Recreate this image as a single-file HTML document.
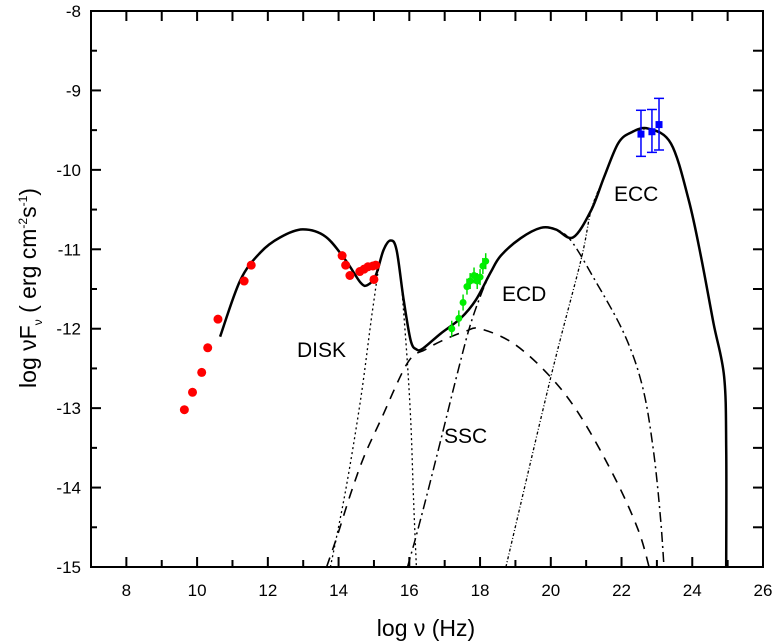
<!DOCTYPE html>
<html><head><meta charset="utf-8"><style>
body{margin:0;background:#fff;}
svg{display:block;font-family:"Liberation Sans",Arial,sans-serif;}
</style></head><body>
<svg id="chart" width="774" height="644" viewBox="0 0 774 644" xmlns="http://www.w3.org/2000/svg"></svg>
<script>
const xTicks=[8,10,12,14,16,18,20,22,24,26];
const yTicks=[-8,-9,-10,-11,-12,-13,-14,-15];
const redX=[9.64,9.87,10.13,10.3,10.59,11.33,11.53,14.1,14.2,14.32,14.6,14.72,14.83,14.97,15.0,15.05];
const redY=[-13.02,-12.8,-12.55,-12.24,-11.88,-11.4,-11.2,-11.08,-11.2,-11.33,-11.28,-11.25,-11.22,-11.21,-11.38,-11.2];
const greenX=[17.2,17.4,17.52,17.63,17.72,17.83,17.92,18.0,18.08,18.16];
const greenY=[-12.0,-11.87,-11.67,-11.47,-11.4,-11.33,-11.4,-11.35,-11.21,-11.15];
const blueX=[22.55,22.86,23.06];
const blueY=[-9.55,-9.52,-9.43];
const blueLo=[-9.83,-9.78,-9.75];
const blueHi=[-9.25,-9.24,-9.1];
const totalX=[10.65,11.22,11.79,12.35,12.98,13.63,14.2,14.62,14.82,15.05,15.27,15.47,15.64,15.84,16.04,16.2,16.38,16.89,17.45,17.88,18.3,18.59,19.15,19.72,20.14,20.63,21.14,21.5,21.9,22.27,22.75,23.4,23.9,24.25,24.6,24.9,24.96,24.96];
const totalY=[-12.1,-11.39,-11.04,-10.85,-10.75,-10.84,-11.14,-11.42,-11.45,-11.33,-11.01,-10.89,-11.01,-11.64,-12.15,-12.26,-12.25,-12.06,-11.87,-11.64,-11.29,-11.08,-10.86,-10.73,-10.75,-10.85,-10.51,-10.1,-9.67,-9.53,-9.48,-9.67,-10.38,-11.1,-11.93,-12.6,-13.5,-15];
const diskX=[13.77,14.2,14.62,14.96,15.2,15.47,15.7,15.9,16.04,16.12,16.2];
const diskY=[-15,-14.03,-12.9,-11.77,-11.1,-10.89,-11.14,-12.15,-13.15,-14.16,-15];
const sscX=[13.66,13.97,14.34,14.71,15.19,15.95,16.46,17.03,17.6,18.0,18.96,20,20.85,21.8,22.47,22.78];
const sscY=[-15,-14.6,-14.08,-13.62,-13.15,-12.43,-12.26,-12.13,-12.03,-12.0,-12.19,-12.61,-13.11,-13.87,-14.53,-15];
const ecdX=[15.95,16.32,16.89,17.31,17.68,18.0,18.3,18.59,19.15,19.72,20.14,20.57,21.2,22.07,22.6,22.9,23.1,23.2];
const ecdY=[-15,-14.4,-13.4,-12.65,-12.02,-11.6,-11.29,-11.08,-10.86,-10.73,-10.75,-10.89,-11.35,-12.06,-12.74,-13.53,-14.37,-15];
const eccX=[18.73,20.0,20.85,21.14,21.5,21.9,22.27,22.75];
const eccY=[-15,-12.61,-11.14,-10.51,-10.1,-9.67,-9.53,-9.48];
const NS="http://www.w3.org/2000/svg";
const svg=document.getElementById('chart');
const L=91,R=763,T=11,B=567;
const X=v=>L+(v-7)*(R-L)/19;
const Y=f=>T+(-8-f)*(B-T)/7;
function mk(tag,attrs,parent){const e=document.createElementNS(NS,tag);for(const k in attrs)e.setAttribute(k,attrs[k]);(parent||svg).appendChild(e);return e;}
const clip=mk('clipPath',{id:'cp'});mk('rect',{x:L,y:T,width:R-L,height:B-T},clip);
let e=mk('rect',{x:L,y:T,width:R-L,height:B-T,fill:'none',stroke:'#000','stroke-width':2});


for(let v=7;v<=26;v++){const maj=v%2===0;
e=mk('line',{x1:X(v),x2:X(v),y1:B,y2:B-(maj?10:7),stroke:'#000','stroke-width':2});


e=mk('line',{x1:X(v),x2:X(v),y1:T,y2:T+10,stroke:'#000','stroke-width':2});

}
xTicks.forEach(v=>{e=mk('text',{x:X(v),y:B+29,'text-anchor':'middle','font-size':17});e.textContent=v;

});
for(let f=-15;f<=-8;f+=0.5){const maj=Number.isInteger(f);
e=mk('line',{x1:L,x2:L+(maj?10:6),y1:Y(f),y2:Y(f),stroke:'#000','stroke-width':2});


e=mk('line',{x1:R,x2:R-10,y1:Y(f),y2:Y(f),stroke:'#000','stroke-width':2});

}
yTicks.forEach(f=>{e=mk('text',{x:L-10,y:Y(f)+6,'text-anchor':'end','font-size':17});e.textContent=f;

});
e=mk('text',{x:426,y:636,'text-anchor':'middle','font-size':23});e.textContent='log ν (Hz)';


e=mk('text',{transform:'translate(36,288) rotate(-90)','text-anchor':'middle','font-size':23});
e.innerHTML='log νF<tspan font-size="12" dy="6">ν</tspan><tspan dy="-6"> ( erg cm</tspan><tspan font-size="12" dy="-9">-2</tspan><tspan dy="9">s</tspan><tspan font-size="12" dy="-9">-1</tspan><tspan dy="9">)</tspan>';


function line(xs,ys,dash,w,name){
const P=xs.map((v,i)=>[X(v),Y(ys[i])]);
let d='M'+P[0][0].toFixed(1)+' '+P[0][1].toFixed(1);
for(let i=0;i<P.length-1;i++){const p0=P[i-1]||P[i],p1=P[i],p2=P[i+1],p3=P[i+2]||p2;
const c1=[p1[0]+(p2[0]-p0[0])/6,p1[1]+(p2[1]-p0[1])/6],c2=[p2[0]-(p3[0]-p1[0])/6,p2[1]-(p3[1]-p1[1])/6];
d+=' C'+c1.map(n=>n.toFixed(1)).join(' ')+' '+c2.map(n=>n.toFixed(1)).join(' ')+' '+p2.map(n=>n.toFixed(1)).join(' ');}
const p=mk('path',{d:d,fill:'none',stroke:'#000','stroke-width':w,'stroke-dasharray':dash,'clip-path':'url(#cp)','stroke-linejoin':'round'});

}
line(diskX,diskY,'2 3',1.3,'disk-curve');
line(sscX,sscY,'10 8',1.6,'ssc-curve');
line(ecdX,ecdY,'10 4 2 4',1.5,'ecd-curve');
line(eccX,eccY,'3 2 1 2',1.3,'ecc-curve');
line(totalX,totalY,'none',2.5,'total-curve');
redX.forEach((v,i)=>{e=mk('circle',{cx:X(v),cy:Y(redY[i]),r:4.5,fill:'#f00'});

});
greenX.forEach((v,i)=>{mk('line',{x1:X(v),x2:X(v),y1:Y(greenY[i])-8,y2:Y(greenY[i])+8,stroke:'#0d0','stroke-width':1.5});
e=mk('circle',{cx:X(v),cy:Y(greenY[i]),r:3.5,fill:'#0e0'});

});
blueX.forEach((v,i)=>{const x=X(v);
mk('line',{x1:x,x2:x,y1:Y(blueHi[i]),y2:Y(blueLo[i]),stroke:'#00f','stroke-width':1.5});
mk('line',{x1:x-5,x2:x+5,y1:Y(blueHi[i]),y2:Y(blueHi[i]),stroke:'#00f','stroke-width':1.5});
mk('line',{x1:x-5,x2:x+5,y1:Y(blueLo[i]),y2:Y(blueLo[i]),stroke:'#00f','stroke-width':1.5});
e=mk('rect',{x:x-3.5,y:Y(blueY[i])-3.5,width:7,height:7,fill:'#00f'});

});
[['DISK',297,357,'disk-label'],['SSC',444,443,'ssc-label'],['ECD',502,301,'ecd-label'],['ECC',614,201,'ecc-label']].forEach(a=>{
e=mk('text',{x:a[1],y:a[2],'font-size':21});e.textContent=a[0];

});
</script>
</body></html>
